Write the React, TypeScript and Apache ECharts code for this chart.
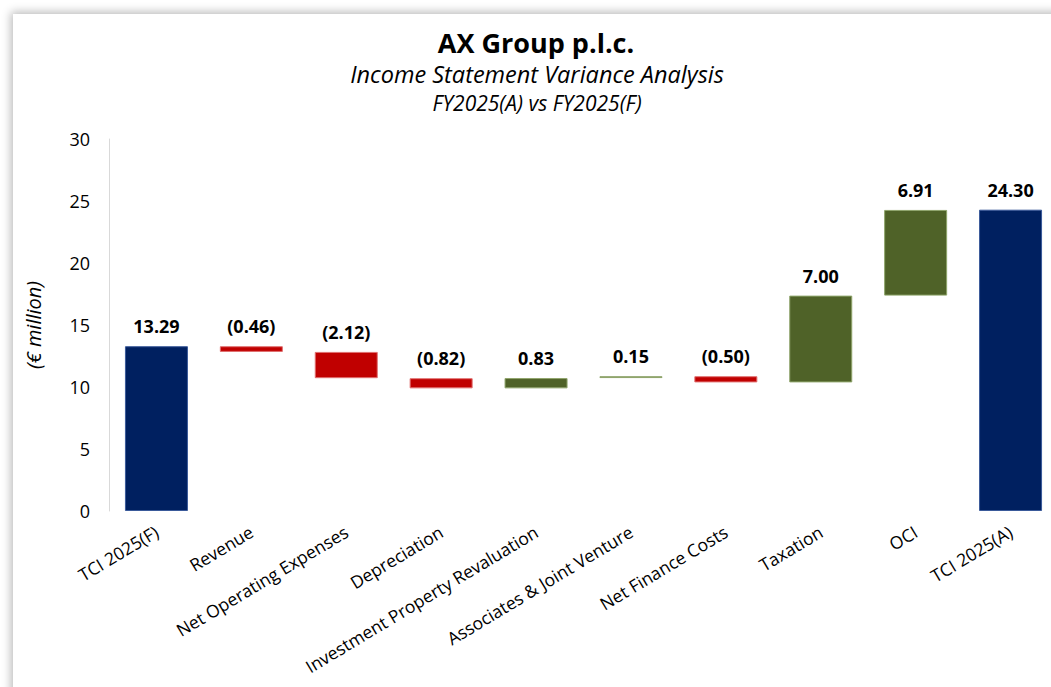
import React, { useEffect, useRef } from "react";
import * as echarts from "echarts";

const categories = [
  "TCI 2025(F)",
  "Revenue",
  "Net Operating Expenses",
  "Depreciation",
  "Investment Property Revaluation",
  "Associates & Joint Venture",
  "Net Finance Costs",
  "Taxation",
  "OCI",
  "TCI 2025(A)",
];
const values = [13.29, -0.46, -2.12, -0.82, 0.83, 0.15, -0.5, 7.0, 6.91, 24.3];
const isTotal = [true, false, false, false, false, false, false, false, false, true];
const yTicks = { min: 0, max: 30, interval: 5 };

const titleText = "AX Group p.l.c.";
const subtitleText = "Income Statement Variance Analysis";
const periodText = "FY2025(A) vs FY2025(F)";
const axisNameText = "(€ million)";

const COL_TOTAL = "#002060";
const COL_POS = "#4F6228";
const COL_NEG = "#C00000";
const BORDER_TOTAL = "#3A5A9A";
const BORDER_POS = "#8FA56B";
const BORDER_NEG = "#E07070";
const FONT = "'Open Sans', 'Noto Sans', sans-serif";

function fmt(v: number): string {
  return v < 0 ? `(${Math.abs(v).toFixed(2)})` : v.toFixed(2);
}

export default function App() {
  const ref = useRef<HTMLDivElement>(null);

  useEffect(() => {
    if (!ref.current) return;
    const chart = echarts.init(ref.current, undefined, { renderer: "svg" });

    const bases: number[] = [];
    const heights: any[] = [];
    let run = 0;
    values.forEach((v, i) => {
      let base = 0;
      let h = 0;
      let color = COL_TOTAL;
      let border = BORDER_TOTAL;
      if (isTotal[i]) {
        base = 0;
        h = v;
        run = v;
      } else if (v >= 0) {
        base = run;
        h = v;
        run += v;
        color = COL_POS;
        border = BORDER_POS;
      } else {
        run += v;
        base = run;
        h = -v;
        color = COL_NEG;
        border = BORDER_NEG;
      }
      bases.push(base);
      heights.push({
        value: h,
        itemStyle: { color, borderColor: border, borderWidth: 1 },
      });
    });

    chart.setOption({
      animation: false,
      graphic: [
        {
          type: "text",
          x: 536,
          y: 42,
          style: {
            text: titleText,
            align: "center",
            verticalAlign: "middle",
            fontFamily: FONT,
            fontSize: 27,
            fontWeight: "bold",
            fill: "#000",
          },
        },
        {
          type: "text",
          x: 537,
          y: 74,
          style: {
            text: subtitleText,
            align: "center",
            verticalAlign: "middle",
            fontFamily: FONT,
            fontSize: 23.5,
            fontStyle: "italic",
            fill: "#000",
          },
        },
        {
          type: "text",
          x: 537,
          y: 103,
          style: {
            text: periodText,
            align: "center",
            verticalAlign: "middle",
            fontFamily: FONT,
            fontSize: 21,
            fontStyle: "italic",
            fill: "#000",
          },
        },
      ],
      grid: { left: 109, top: 139, right: 2, bottom: 176, containLabel: false },
      xAxis: {
        type: "category",
        data: categories,
        axisLine: { show: false },
        axisTick: { show: false },
        axisLabel: {
          interval: 0,
          rotate: 31,
          margin: 19,
          fontFamily: FONT,
          fontSize: 17.5,
          color: "#000",
        },
      },
      yAxis: {
        type: "value",
        min: yTicks.min,
        max: yTicks.max,
        interval: yTicks.interval,
        name: axisNameText,
        nameLocation: "middle",
        nameRotate: 90,
        nameGap: 66,
        nameTextStyle: {
          fontFamily: FONT,
          fontSize: 20,
          fontStyle: "italic",
          color: "#000",
        },
        axisLine: { show: true, lineStyle: { color: "#D9D9D9", width: 1 } },
        axisTick: { show: false },
        splitLine: { show: false },
        axisLabel: {
          margin: 19,
          fontFamily: FONT,
          fontSize: 18,
          color: "#000",
        },
      },
      series: [
        {
          type: "bar",
          stack: "w",
          data: bases,
          silent: true,
          barWidth: 63,
          itemStyle: { color: "transparent" },
          emphasis: { disabled: true },
        },
        {
          type: "bar",
          stack: "w",
          data: heights,
          barWidth: 63,
          label: {
            show: true,
            position: "top",
            distance: 11,
            fontFamily: FONT,
            fontSize: 18,
            fontWeight: "bold",
            color: "#000",
            formatter: (p: any) => fmt(values[p.dataIndex]),
          },
        },
      ],
    });

    return () => chart.dispose();
  }, []);

  return (
    <div
      style={{
        position: "fixed",
        left: 0,
        top: 0,
        width: 1051,
        height: 687,
        overflow: "hidden",
        background: "#fff",
      }}
    >
      <div
        style={{
          position: "absolute",
          left: 13,
          top: 14,
          width: 1100,
          height: 720,
          background: "#fff",
          boxShadow: "-2px -2px 9px rgba(0,0,0,0.28)",
        }}
      />
      <div
        ref={ref}
        style={{ position: "absolute", left: 0, top: 0, width: 1060, height: 687 }}
      />
    </div>
  );
}
